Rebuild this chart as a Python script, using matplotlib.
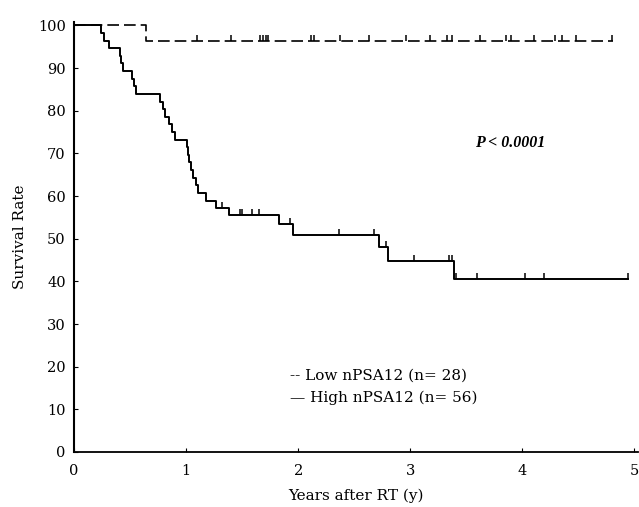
import numpy as np
import matplotlib
matplotlib.use('Agg')
import matplotlib.pyplot as plt

# Low nPSA12 group (n=28): step times / survival levels
low_t = [0.0, 0.64]
low_s = [100.0, 96.4]
low_end = 4.81
low_censor = [1.10, 1.40, 1.66, 1.69, 1.71, 1.73, 2.11, 2.14, 2.37, 2.63, 2.96,
              3.18, 3.33, 3.37, 3.62, 3.85, 3.90, 4.10, 4.29, 4.35, 4.48, 4.80]

# High nPSA12 group (n=56)
high_t = [0.0, 0.24, 0.27, 0.31, 0.405, 0.42, 0.44, 0.515, 0.535, 0.555,
          0.77, 0.79, 0.815, 0.85, 0.875, 0.90, 1.006, 1.015, 1.025, 1.04,
          1.06, 1.085, 1.11, 1.18, 1.27, 1.38, 1.83, 1.95, 2.72, 2.80, 3.39]
high_s = [100.0, 98.2, 96.4, 94.6, 92.9, 91.1, 89.3, 87.5, 85.7, 83.9,
          82.1, 80.4, 78.6, 76.8, 75.0, 73.2, 71.4, 69.6, 67.9, 66.1,
          64.3, 62.5, 60.7, 58.9, 57.1, 55.5, 53.4, 50.9, 48.0, 44.7, 40.6]
high_end = 4.94
high_censor = [1.32, 1.48, 1.50, 1.59, 1.65, 1.93, 2.36, 2.68, 2.78, 3.03,
               3.35, 3.37, 3.41, 3.60, 4.02, 4.19, 4.94]

x_ticks = [0, 1, 2, 3, 4, 5]
y_ticks = list(range(0, 101, 10))

plt.rcParams['font.family'] = ['DejaVu Serif']

fig = plt.figure(figsize=(6.39, 5.07), dpi=100)
ax = fig.add_axes([0.116, 0.1085, 0.882, 0.848])


def level_at(times, surv, t):
    i = np.searchsorted(times, t, side='right') - 1
    return surv[i]


def draw_curve(times, surv, end, censor, **kw):
    xs = list(times) + [end]
    ys = list(surv) + [surv[-1]]
    ax.step(xs, ys, where='post', color='black', **kw)
    lv = [level_at(times, surv, c) for c in censor]
    ax.vlines(censor, lv, np.array(lv) + 1.4, color='black', lw=1.1)


draw_curve(low_t, low_s, low_end, low_censor, lw=1.2, dashes=(7, 3))
draw_curve(high_t, high_s, high_end, high_censor, lw=1.4)

ax.set_xlim(0, 5.03)
ax.set_ylim(0, 100.8)
ax.set_xticks(x_ticks)
ax.set_yticks(y_ticks)
ax.tick_params(direction='in', length=3, labelsize=10.5)
ax.tick_params(axis='x', pad=9)
ax.tick_params(axis='y', pad=6)
ax.spines['top'].set_visible(False)
ax.spines['right'].set_visible(False)
ax.spines['left'].set_linewidth(1.5)
ax.spines['bottom'].set_linewidth(1.3)

ax.set_xlabel('Years after RT (y)', fontsize=11, labelpad=7)
ax.set_ylabel('Survival Rate', fontsize=11, labelpad=8)

ax.text(3.58, 72.4, 'P < 0.0001', fontsize=11.5, style='italic', weight='bold',
        family='Liberation Serif', va='center')
ax.text(1.93, 18.0, '-- Low nPSA12 (n= 28)', fontsize=11, va='center')
ax.text(1.93, 12.6, '— High nPSA12 (n= 56)', fontsize=11, va='center')

fig.savefig('out.png', dpi=100)
